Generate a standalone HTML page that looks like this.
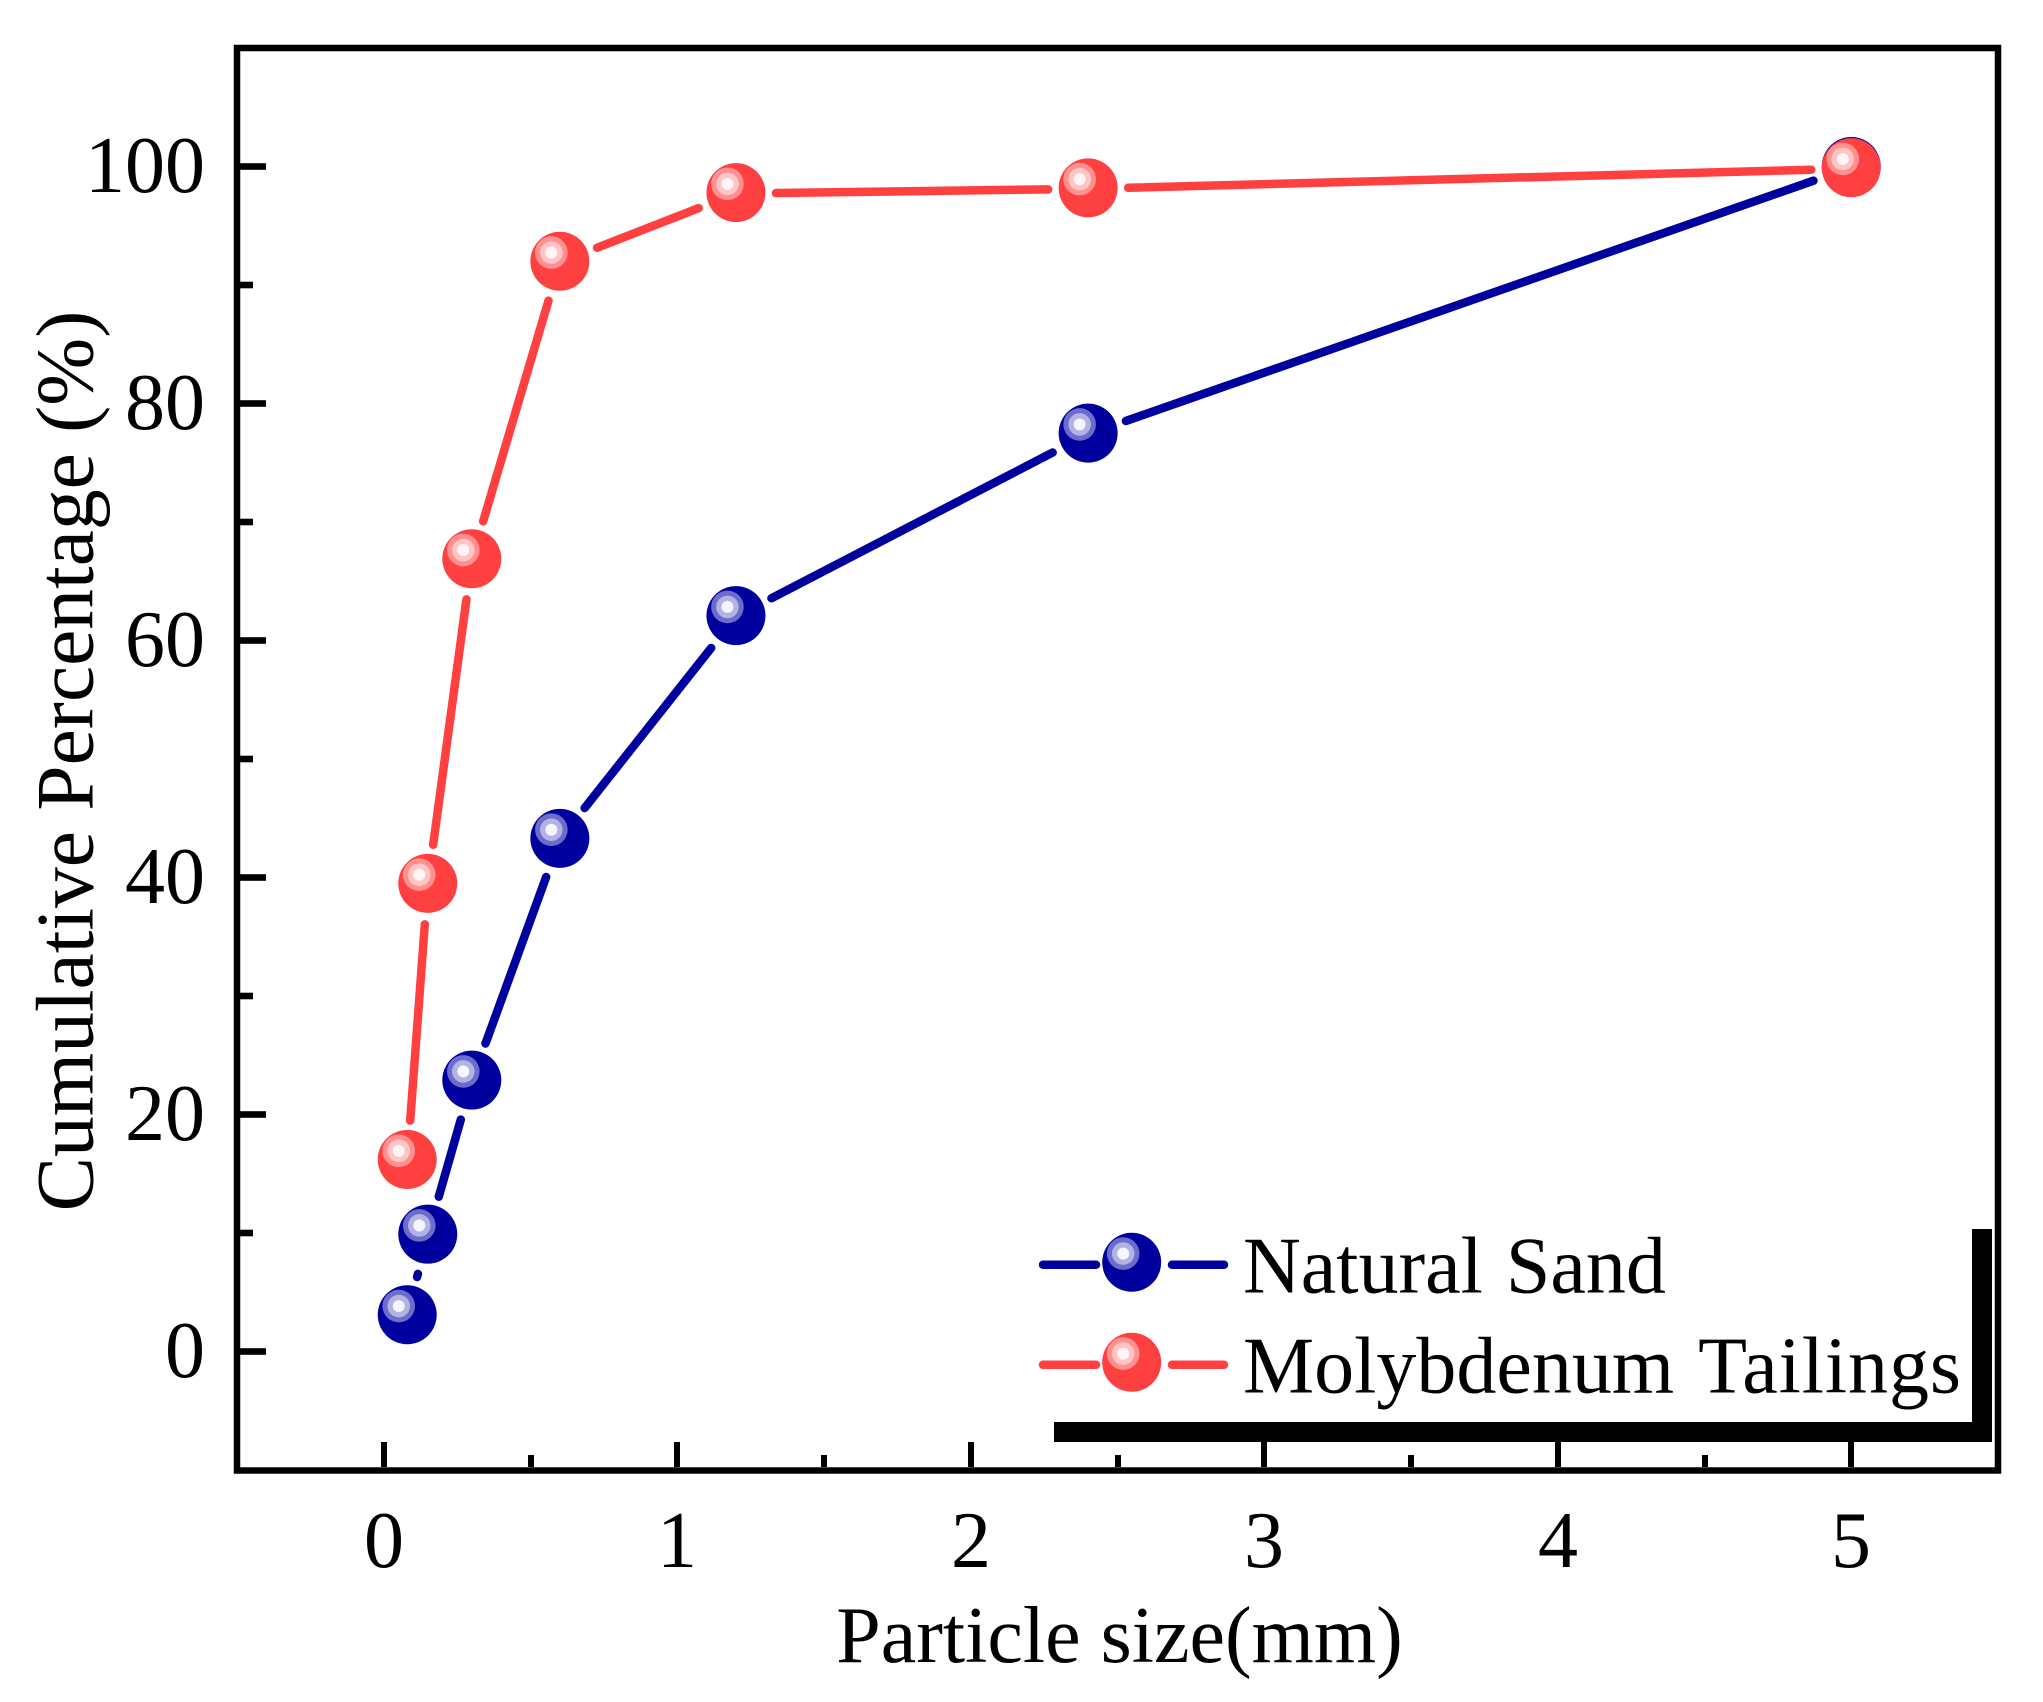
<!DOCTYPE html>
<html lang="en">
<head>
<meta charset="utf-8">
<title>Cumulative Percentage vs Particle Size</title>
<style>
html,body{margin:0;padding:0;background:#fff;}
svg{display:block;}
text{font-family:"Liberation Serif","Times New Roman",serif;fill:#000;}
</style>
</head>
<body>
<svg id="chart" xmlns="http://www.w3.org/2000/svg" width="2043" height="1702" viewBox="0 0 2043 1702">
  <rect x="0" y="0" width="2043" height="1702" fill="#fff"/>
  <g id="ticks"></g>
  <g id="series"></g>
  <rect x="237" y="48" width="1761" height="1422.5" fill="none" stroke="#000" stroke-width="6.5"/>
  <text x="1119.5" y="1662" font-size="80" text-anchor="middle">Particle size(mm)</text>
  <text transform="translate(92.5,761) rotate(-90)" font-size="81.5" text-anchor="middle">Cumulative Percentage (%)</text>
  <g>
    <rect x="1054" y="1422" width="938" height="20" fill="#000"/>
    <rect x="1972" y="1229" width="20" height="213" fill="#000"/>
    <g>
      <line x1="1043" y1="1264.7" x2="1096" y2="1264.7" stroke="#00009e" stroke-width="8.5" stroke-linecap="round"/>
      <line x1="1172" y1="1264.7" x2="1224" y2="1264.7" stroke="#00009e" stroke-width="8.5" stroke-linecap="round"/>
      <circle cx="1131.7" cy="1262.3" r="29.5" fill="#00009e"/>
      <circle cx="1123.2" cy="1253.6" r="16.3" fill="#6c6ccc"/>
      <circle cx="1123.2" cy="1253.6" r="11.3" fill="#b3b3e3"/>
      <circle cx="1123.2" cy="1253.6" r="6" fill="#f5f5ff"/>
      <text x="1243" y="1292.3" font-size="80" word-spacing="3">Natural Sand</text>
    </g>
    <g>
      <line x1="1043" y1="1364.7" x2="1096" y2="1364.7" stroke="#ff4040" stroke-width="8.5" stroke-linecap="round"/>
      <line x1="1172" y1="1364.7" x2="1224" y2="1364.7" stroke="#ff4040" stroke-width="8.5" stroke-linecap="round"/>
      <circle cx="1131.7" cy="1362.3" r="29.5" fill="#ff4040"/>
      <circle cx="1123.2" cy="1353.6" r="16.3" fill="#ff9090"/>
      <circle cx="1123.2" cy="1353.6" r="11.3" fill="#ffc4c4"/>
      <circle cx="1123.2" cy="1353.6" r="6" fill="#fff5f5"/>
      <text x="1243" y="1392.3" font-size="80" word-spacing="4">Molybdenum <tspan letter-spacing="0.9">Tailings</tspan></text>
    </g>
  </g>
</svg>
<script>
const particleSizes = [0.08, 0.15, 0.3, 0.6, 1.2, 2.4, 5];
const naturalSand = [3.1, 9.9, 22.9, 43.3, 62.1, 77.5, 100];
const molybdenumTailings = [16.2, 39.5, 66.9, 92, 97.8, 98.2, 99.9];
const xMajorTicks = [0, 1, 2, 3, 4, 5];
const xMinorTicks = [0.5, 1.5, 2.5, 3.5, 4.5];
const yMajorTicks = [0, 20, 40, 60, 80, 100];
const yMinorTicks = [10, 30, 50, 70, 90];

const SVG_NS = 'http://www.w3.org/2000/svg';
const xDomain = [-0.5, 5.5];
const yDomain = [-10, 110];
const plot = { left: 237, right: 1998, top: 48, bottom: 1470 };

function xScale(v) {
  return plot.left + (v - xDomain[0]) / (xDomain[1] - xDomain[0]) * (plot.right - plot.left);
}
function yScale(v) {
  return plot.bottom - (v - yDomain[0]) / (yDomain[1] - yDomain[0]) * (plot.bottom - plot.top);
}
function make(tag, attrs, parent) {
  const node = document.createElementNS(SVG_NS, tag);
  for (const key in attrs) node.setAttribute(key, attrs[key]);
  parent.appendChild(node);
  return node;
}

const tickGroup = document.getElementById('ticks');
const seriesGroup = document.getElementById('series');

function drawXTick(v, length, labelled) {
  const x = Math.round(xScale(v));
  const tick = make('rect', { x: x - 3, y: 1467 - length, width: 6, height: length, fill: '#000' }, tickGroup);
  
  
  if (labelled) {
    const label = make('text', { x: x, y: 1567, 'font-size': 80, 'text-anchor': 'middle' }, tickGroup);
    label.textContent = String(v);
    
    
  }
}
function drawYTick(v, length, labelled) {
  const y = yScale(v);
  const tick = make('rect', { x: 240, y: y - 3.3, width: length, height: 6.6, fill: '#000' }, tickGroup);
  
  
  if (labelled) {
    const label = make('text', { x: 205, y: y + 25.5, 'font-size': 80, 'text-anchor': 'end' }, tickGroup);
    label.textContent = String(v);
    
    
  }
}
xMajorTicks.forEach(function (v) { drawXTick(v, 25, true); });
xMinorTicks.forEach(function (v) { drawXTick(v, 12, false); });
yMajorTicks.forEach(function (v) { drawYTick(v, 26, true); });
yMinorTicks.forEach(function (v) { drawYTick(v, 13, false); });

function drawSeries(name, values, color, glowColors) {
  const group = make('g', {}, seriesGroup);
  
  
  const gap = 40;
  for (let i = 0; i < values.length - 1; i++) {
    const x0 = xScale(particleSizes[i]);
    const y0 = yScale(values[i]);
    const x1 = xScale(particleSizes[i + 1]);
    const y1 = yScale(values[i + 1]);
    const dist = Math.hypot(x1 - x0, y1 - y0);
    const ux = (x1 - x0) / dist;
    const uy = (y1 - y0) / dist;
    const seg = make('line', {
      x1: x0 + ux * gap, y1: y0 + uy * gap + 1,
      x2: x1 - ux * gap, y2: y1 - uy * gap + 1,
      stroke: color, 'stroke-width': 8.5, 'stroke-linecap': 'round'
    }, group);
    
    
  }
  values.forEach(function (v, i) {
    const cx = xScale(particleSizes[i]);
    const cy = yScale(v);
    const point = make('g', {}, group);
    
    
    make('circle', { cx: cx, cy: cy, r: 29.5, fill: color }, point);
    make('circle', { cx: cx - 8.5, cy: cy - 8.7, r: 16.3, fill: glowColors[0] }, point);
    make('circle', { cx: cx - 8.5, cy: cy - 8.7, r: 11.3, fill: glowColors[1] }, point);
    make('circle', { cx: cx - 8.5, cy: cy - 8.7, r: 6, fill: glowColors[2] }, point);
  });
}
drawSeries('natural-sand', naturalSand, '#00009e', ['#6c6ccc', '#b3b3e3', '#f5f5ff']);
drawSeries('molybdenum-tailings', molybdenumTailings, '#ff4040', ['#ff9090', '#ffc4c4', '#fff5f5']);
</script>
</body>
</html>
